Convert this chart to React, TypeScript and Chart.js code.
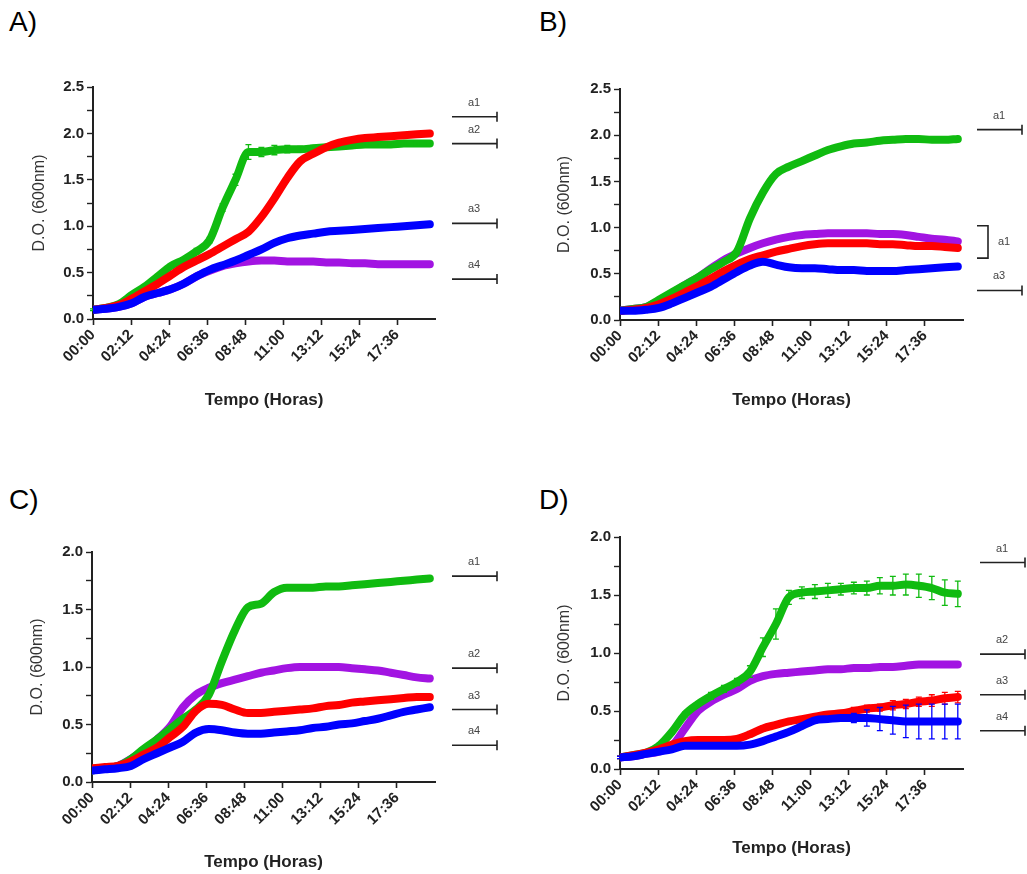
import React, { useEffect, useRef } from 'react';
import { Chart, registerables } from 'chart.js';
Chart.register(...registerables);

const FONT = "Arial, 'Liberation Sans', Helvetica, sans-serif";

// time points (minutes)
const times = [0, 45, 90, 135, 180, 225, 270, 315, 360, 405, 450, 495, 540, 585, 630, 675, 720, 765, 810, 855, 900, 945, 990, 1035, 1080, 1125, 1170];
const tickTimes = [0, 132, 264, 396, 528, 660, 792, 924, 1056];

// Panel A
const aGreen = [0.10, 0.12, 0.16, 0.26, 0.35, 0.46, 0.57, 0.64, 0.73, 0.85, 1.20, 1.50, 1.80, 1.80, 1.82, 1.83, 1.83, 1.84, 1.85, 1.86, 1.87, 1.88, 1.88, 1.88, 1.89, 1.89, 1.89];
const aGreenErr = [0.01, 0.01, 0.01, 0.02, 0.02, 0.02, 0.02, 0.02, 0.03, 0.03, 0.04, 0.06, 0.08, 0.05, 0.05, 0.04, 0.03, 0.03, 0.03, 0.02, 0.02, 0.02, 0.02, 0.02, 0.02, 0.02, 0.02];
const aRed = [0.10, 0.12, 0.15, 0.22, 0.30, 0.38, 0.47, 0.56, 0.63, 0.70, 0.78, 0.86, 0.94, 1.10, 1.30, 1.52, 1.70, 1.78, 1.85, 1.90, 1.93, 1.95, 1.96, 1.97, 1.98, 1.99, 2.00];
const aBlue = [0.10, 0.11, 0.13, 0.17, 0.24, 0.28, 0.32, 0.38, 0.46, 0.53, 0.58, 0.63, 0.69, 0.75, 0.82, 0.87, 0.90, 0.92, 0.94, 0.95, 0.96, 0.97, 0.98, 0.99, 1.00, 1.01, 1.02];
const aPurple = [0.10, 0.11, 0.13, 0.17, 0.24, 0.28, 0.32, 0.38, 0.46, 0.52, 0.57, 0.60, 0.62, 0.63, 0.63, 0.62, 0.62, 0.62, 0.61, 0.61, 0.60, 0.60, 0.59, 0.59, 0.59, 0.59, 0.59];

// Panel B
const bGreen = [0.10, 0.12, 0.14, 0.22, 0.30, 0.38, 0.46, 0.55, 0.63, 0.74, 1.10, 1.38, 1.58, 1.66, 1.72, 1.78, 1.84, 1.88, 1.91, 1.92, 1.94, 1.95, 1.96, 1.96, 1.95, 1.95, 1.96];
const bRed = [0.10, 0.11, 0.13, 0.17, 0.23, 0.30, 0.37, 0.45, 0.53, 0.60, 0.66, 0.70, 0.74, 0.77, 0.80, 0.82, 0.83, 0.83, 0.83, 0.83, 0.82, 0.82, 0.81, 0.80, 0.80, 0.79, 0.78];
const bBlue = [0.10, 0.10, 0.11, 0.13, 0.18, 0.24, 0.30, 0.36, 0.44, 0.52, 0.59, 0.63, 0.60, 0.57, 0.56, 0.56, 0.55, 0.54, 0.54, 0.53, 0.53, 0.53, 0.54, 0.55, 0.56, 0.57, 0.58];
const bPurple = [0.10, 0.12, 0.14, 0.21, 0.29, 0.38, 0.46, 0.56, 0.65, 0.72, 0.78, 0.83, 0.87, 0.90, 0.92, 0.93, 0.94, 0.94, 0.94, 0.94, 0.93, 0.93, 0.92, 0.90, 0.88, 0.87, 0.85];

// Panel C
const cGreen = [0.10, 0.12, 0.14, 0.20, 0.29, 0.37, 0.46, 0.55, 0.63, 0.76, 1.05, 1.32, 1.52, 1.55, 1.65, 1.69, 1.69, 1.69, 1.70, 1.70, 1.71, 1.72, 1.73, 1.74, 1.75, 1.76, 1.77];
const cRed = [0.12, 0.13, 0.14, 0.18, 0.24, 0.30, 0.39, 0.48, 0.62, 0.68, 0.67, 0.63, 0.60, 0.60, 0.61, 0.62, 0.63, 0.64, 0.66, 0.67, 0.69, 0.70, 0.71, 0.72, 0.73, 0.74, 0.74];
const cBlue = [0.10, 0.11, 0.12, 0.14, 0.20, 0.25, 0.30, 0.35, 0.43, 0.46, 0.45, 0.43, 0.42, 0.42, 0.43, 0.44, 0.45, 0.47, 0.48, 0.50, 0.51, 0.53, 0.55, 0.58, 0.61, 0.63, 0.65];
const cPurple = [0.10, 0.12, 0.14, 0.20, 0.28, 0.37, 0.48, 0.65, 0.76, 0.82, 0.86, 0.89, 0.92, 0.95, 0.97, 0.99, 1.00, 1.00, 1.00, 1.00, 0.99, 0.98, 0.97, 0.95, 0.93, 0.91, 0.90];

// Panel D
const dGreen = [0.10, 0.12, 0.14, 0.20, 0.32, 0.47, 0.56, 0.63, 0.69, 0.75, 0.84, 1.05, 1.25, 1.48, 1.52, 1.53, 1.54, 1.55, 1.56, 1.56, 1.58, 1.58, 1.59, 1.58, 1.56, 1.52, 1.51];
const dGreenErr = [0.01, 0.01, 0.01, 0.02, 0.02, 0.02, 0.02, 0.03, 0.03, 0.03, 0.05, 0.08, 0.13, 0.06, 0.05, 0.06, 0.06, 0.05, 0.05, 0.06, 0.07, 0.08, 0.09, 0.10, 0.10, 0.11, 0.11];
const dRed = [0.10, 0.12, 0.14, 0.17, 0.21, 0.24, 0.25, 0.25, 0.25, 0.26, 0.30, 0.35, 0.38, 0.41, 0.43, 0.45, 0.47, 0.48, 0.50, 0.52, 0.53, 0.55, 0.56, 0.58, 0.59, 0.61, 0.62];
const dRedErr = [0.01, 0.01, 0.01, 0.01, 0.01, 0.01, 0.01, 0.01, 0.01, 0.01, 0.02, 0.02, 0.02, 0.02, 0.02, 0.02, 0.02, 0.02, 0.03, 0.03, 0.03, 0.04, 0.04, 0.04, 0.05, 0.05, 0.05];
const dBlue = [0.10, 0.11, 0.13, 0.15, 0.17, 0.20, 0.20, 0.20, 0.20, 0.20, 0.21, 0.24, 0.28, 0.32, 0.37, 0.42, 0.43, 0.44, 0.44, 0.44, 0.43, 0.42, 0.41, 0.41, 0.41, 0.41, 0.41];
const dBlueErr = [0.01, 0.01, 0.01, 0.01, 0.01, 0.01, 0.01, 0.01, 0.01, 0.01, 0.01, 0.01, 0.01, 0.01, 0.02, 0.02, 0.02, 0.02, 0.04, 0.07, 0.10, 0.12, 0.14, 0.15, 0.15, 0.15, 0.15];
const dPurple = [0.10, 0.11, 0.13, 0.15, 0.20, 0.35, 0.50, 0.58, 0.64, 0.69, 0.76, 0.80, 0.82, 0.83, 0.84, 0.85, 0.86, 0.86, 0.87, 0.87, 0.88, 0.88, 0.89, 0.90, 0.90, 0.90, 0.90];

// significance letters (label, level in D.O.)
const aMarks = [['a1', 2.18], ['a2', 1.89], ['a3', 1.03], ['a4', 0.43]];
const bMarks = [['a1', 2.06], ['a3', 0.32]];
const bBracket = ['a1', 1.02, 0.67];
const cMarks = [['a1', 1.79], ['a2', 0.99], ['a3', 0.63], ['a4', 0.32]];
const dMarks = [['a1', 1.78], ['a2', 0.99], ['a3', 0.64], ['a4', 0.33]];

const GREEN = '#10bb10';
const RED = '#ff0000';
const BLUE = '#0000ff';
const PURPLE = '#a214e2';

const TICK_SIZE = 15;
const XTITLE_SIZE = 17;
const YTITLE_SIZE = 16;

const fmtTime = (m: number) => {
  const h = Math.floor(m / 60);
  const mm = Math.round(m % 60);
  return String(h).padStart(2, '0') + ':' + String(mm).padStart(2, '0');
};

const errorBarPlugin = {
  id: 'errorBars',
  afterDatasetDraw(chart: any, args: any) {
    const ds = chart.data.datasets[args.index];
    if (!ds.errors) return;
    const meta = chart.getDatasetMeta(args.index);
    const ys = chart.scales.y;
    const ctx = chart.ctx;
    ctx.save();
    ctx.strokeStyle = ds.borderColor;
    ctx.lineWidth = 1.3;
    meta.data.forEach((pt: any, i: number) => {
      const v = ds.data[i].y;
      const e = ds.errors[i];
      if (!e) return;
      const x = pt.x;
      const y1 = ys.getPixelForValue(v + e);
      const y2 = ys.getPixelForValue(v - e);
      ctx.beginPath();
      ctx.moveTo(x, y1); ctx.lineTo(x, y2);
      ctx.moveTo(x - 3, y1); ctx.lineTo(x + 3, y1);
      ctx.moveTo(x - 3, y2); ctx.lineTo(x + 3, y2);
      ctx.stroke();
    });
    ctx.restore();
  },
};

const marksPlugin = {
  id: 'sigMarks',
  afterDraw(chart: any, _args: any, opts: any) {
    const ctx = chart.ctx;
    const ys = chart.scales.y;
    const x1 = chart.chartArea.right + opts.gap;
    const x2 = x1 + 45;
    ctx.save();
    ctx.strokeStyle = '#222';
    ctx.fillStyle = '#444';
    ctx.lineWidth = 1.6;
    ctx.font = '11px ' + FONT;
    ctx.textAlign = 'center';
    ctx.textBaseline = 'middle';
    (opts.items || []).forEach((it: any) => {
      const y = ys.getPixelForValue(it[1]);
      ctx.beginPath();
      ctx.moveTo(x1, y); ctx.lineTo(x2, y);
      ctx.moveTo(x2, y - 5); ctx.lineTo(x2, y + 5);
      ctx.stroke();
      ctx.fillText(it[0], x1 + 22, y - 14);
    });
    if (opts.bracket) {
      const b = opts.bracket;
      const yt = ys.getPixelForValue(b[1]);
      const yb = ys.getPixelForValue(b[2]);
      const bx = x1 + 11;
      ctx.beginPath();
      ctx.moveTo(x1, yt); ctx.lineTo(bx, yt); ctx.lineTo(bx, yb); ctx.lineTo(x1, yb);
      ctx.stroke();
      ctx.textAlign = 'left';
      ctx.fillText(b[0], bx + 10, (yt + yb) / 2);
    }
    ctx.restore();
  },
};

type PanelCfg = {
  letter: string;
  letterPos: [number, number];
  canvas: { left: number; top: number; w: number; h: number };
  area: { l: number; t: number; r: number; b: number };
  xTitleY: number;
  yTitleX: number;
  yMax: number;
  series: { data: number[]; color: string; errors?: number[] }[];
  marks: any[];
  bracket?: any;
  gap: number;
};

const toPts = (arr: number[]) => arr.map((v, i) => ({ x: times[i], y: v }));

function Panel({ cfg }: { cfg: PanelCfg }) {
  const ref = useRef<HTMLCanvasElement>(null);
  useEffect(() => {
    const { canvas: cv, area } = cfg;
    const yW = area.l - cv.left;
    const xH = cv.top + cv.h - area.b;
    const yTitleLH = YTITLE_SIZE * 1.2;
    const xTitleLH = XTITLE_SIZE * 1.2;
    const chart = new Chart(ref.current as HTMLCanvasElement, {
      type: 'line',
      data: {
        datasets: cfg.series.map((s) => ({
          data: toPts(s.data),
          borderColor: s.color,
          backgroundColor: s.color,
          borderWidth: 8,
          pointRadius: 0,
          cubicInterpolationMode: 'monotone',
          borderCapStyle: 'round',
          borderJoinStyle: 'round',
          fill: false,
          errors: s.errors,
        })) as any,
      },
      options: {
        animation: false,
        responsive: false,
        maintainAspectRatio: false,
        layout: { padding: { top: area.t - cv.top, right: cv.left + cv.w - area.r, bottom: 0, left: 0 } },
        plugins: {
          legend: { display: false },
          tooltip: { enabled: false },
          sigMarks: { items: cfg.marks, bracket: cfg.bracket, gap: cfg.gap },
        } as any,
        scales: {
          x: {
            type: 'linear',
            min: 0,
            max: 1188,
            afterBuildTicks: (scale: any) => {
              scale.ticks = tickTimes.map((v) => ({ value: v }));
            },
            afterFit: (scale: any) => {
              scale.height = xH;
            },
            ticks: {
              callback: (v: any) => fmtTime(Number(v)),
              minRotation: 45,
              maxRotation: 45,
              autoSkip: false,
              padding: 1,
              color: '#222',
              font: { family: FONT, size: TICK_SIZE, weight: 'bold' },
            },
            grid: { drawOnChartArea: false, drawTicks: true, tickLength: 6, tickWidth: 1.6, tickColor: '#222' },
            border: { display: true, color: '#222', width: 2 },
            title: {
              display: true,
              text: 'Tempo (Horas)',
              color: '#222',
              font: { family: FONT, size: XTITLE_SIZE, weight: 'bold' },
              padding: { top: 0, bottom: cv.top + cv.h - cfg.xTitleY - xTitleLH / 2 },
            },
          },
          y: {
            type: 'linear',
            min: 0,
            max: cfg.yMax,
            afterFit: (scale: any) => {
              scale.width = yW;
            },
            ticks: {
              stepSize: 0.25,
              callback: (v: any) => {
                const n = Number(v);
                return Math.abs(n * 2 - Math.round(n * 2)) < 1e-6 ? n.toFixed(1) : '';
              },
              padding: 3,
              color: '#222',
              font: { family: FONT, size: TICK_SIZE, weight: 'bold' },
            },
            grid: { drawOnChartArea: false, drawTicks: true, tickLength: 6, tickWidth: 1.4, tickColor: '#222' },
            border: { display: true, color: '#222', width: 2 },
            title: {
              display: true,
              text: 'D.O. (600nm)',
              color: '#333',
              font: { family: FONT, size: YTITLE_SIZE },
              padding: { top: cfg.yTitleX - cv.left - yTitleLH / 2, bottom: 0 },
            },
          },
        },
      },
      plugins: [errorBarPlugin, marksPlugin],
    });
    return () => chart.destroy();
  }, [cfg]);
  const { canvas: cv } = cfg;
  return (
    <>
      <div
        style={{
          position: 'absolute',
          left: cfg.letterPos[0],
          top: cfg.letterPos[1],
          fontFamily: FONT,
          fontSize: 28,
          color: '#000',
          lineHeight: '32px',
        }}
      >
        {cfg.letter}
      </div>
      <canvas
        ref={ref}
        width={cv.w}
        height={cv.h}
        style={{ position: 'absolute', left: cv.left, top: cv.top, width: cv.w, height: cv.h }}
      />
    </>
  );
}

const panels: PanelCfg[] = [
  {
    letter: 'A)',
    letterPos: [9, 6],
    canvas: { left: 0, top: 40, w: 515, h: 380 },
    area: { l: 93, t: 87, r: 435, b: 319 },
    xTitleY: 400,
    yTitleX: 40,
    yMax: 2.5,
    series: [
      { data: aBlue, color: BLUE },
      { data: aRed, color: RED },
      { data: aGreen, color: GREEN, errors: aGreenErr },
      { data: aPurple, color: PURPLE },
    ],
    marks: aMarks,
    gap: 17,
  },
  {
    letter: 'B)',
    letterPos: [539, 6],
    canvas: { left: 520, top: 40, w: 507, h: 380 },
    area: { l: 620, t: 89, r: 963, b: 320 },
    xTitleY: 400,
    yTitleX: 565,
    yMax: 2.5,
    series: [
      { data: bBlue, color: BLUE },
      { data: bRed, color: RED },
      { data: bGreen, color: GREEN },
      { data: bPurple, color: PURPLE },
    ],
    marks: bMarks,
    bracket: bBracket,
    gap: 14,
  },
  {
    letter: 'C)',
    letterPos: [9, 484],
    canvas: { left: 0, top: 480, w: 515, h: 394 },
    area: { l: 92, t: 552, r: 435, b: 782 },
    xTitleY: 862,
    yTitleX: 38,
    yMax: 2.0,
    series: [
      { data: cBlue, color: BLUE },
      { data: cRed, color: RED },
      { data: cGreen, color: GREEN },
      { data: cPurple, color: PURPLE },
    ],
    marks: cMarks,
    gap: 17,
  },
  {
    letter: 'D)',
    letterPos: [539, 484],
    canvas: { left: 520, top: 480, w: 507, h: 394 },
    area: { l: 620, t: 537, r: 963, b: 769 },
    xTitleY: 848,
    yTitleX: 565,
    yMax: 2.0,
    series: [
      { data: dBlue, color: BLUE, errors: dBlueErr },
      { data: dRed, color: RED, errors: dRedErr },
      { data: dGreen, color: GREEN, errors: dGreenErr },
      { data: dPurple, color: PURPLE },
    ],
    marks: dMarks,
    gap: 17,
  },
];

export default function App() {
  return (
    <div style={{ position: 'absolute', left: 0, top: 0, width: 1027, height: 874, background: '#fff', overflow: 'hidden' }}>
      {panels.map((p) => (
        <Panel key={p.letter} cfg={p} />
      ))}
    </div>
  );
}
